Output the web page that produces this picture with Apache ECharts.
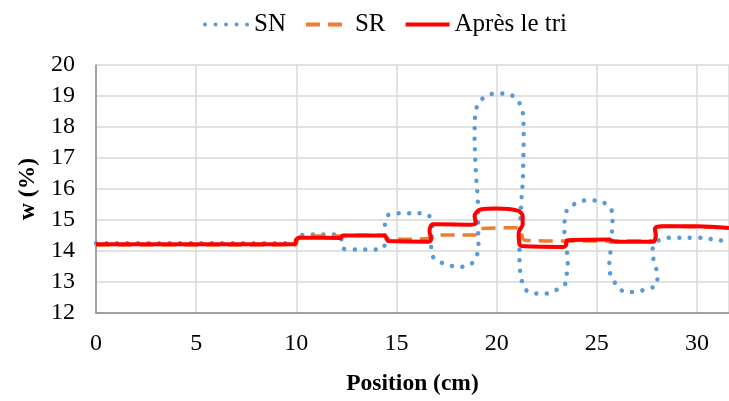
<!DOCTYPE html>
<html><head><meta charset="utf-8">
<script src="https://cdn.jsdelivr.net/npm/echarts@6/dist/echarts.min.js"></script>
<style>html,body{margin:0;padding:0;background:#fff}#c{width:729px;height:401px}</style>
</head><body><div id="c"></div>
<script>
var seriesNames = ['SN', 'SR', 'Après le tri'];
var xTicks = [0, 5, 10, 15, 20, 25, 30];
var yTicks = [12, 13, 14, 15, 16, 17, 18, 19, 20];

var snPoints = [[0,14.25],[5,14.25],[9.9,14.25],[10.05,14.4],[10.4,14.53],[12.1,14.53],[12.28,14.32],[12.35,14.08],[12.7,14.05],[14.0,14.05],[14.4,14.15],[14.42,14.8],[14.55,15.14],[15.05,15.22],[16.3,15.22],[16.65,15.12],[16.8,14.83],[16.73,14.21],[16.8,13.84],[17.23,13.63],[17.73,13.52],[18.26,13.49],[18.76,13.6],[19.03,13.89],[19.09,14.24],[19.08,14.59],[19.06,15.63],[18.98,16.35],[18.93,17.0],[18.9,17.7],[18.94,18.42],[19.09,18.76],[19.48,19.0],[19.97,19.08],[20.52,19.07],[21.0,18.9],[21.25,18.6],[21.34,18.25],[21.35,17.55],[21.33,16.86],[21.3,16.2],[21.22,15.44],[21.14,14.05],[21.17,13.36],[21.47,12.74],[22.0,12.63],[22.5,12.63],[23.05,12.77],[23.46,12.98],[23.5,13.25],[23.55,13.63],[23.38,14.7],[23.41,15.04],[23.55,15.36],[24.0,15.55],[24.46,15.63],[25.02,15.63],[25.54,15.47],[25.79,15.18],[25.7,14.11],[25.62,13.47],[25.84,13.04],[26.45,12.68],[26.95,12.68],[27.45,12.77],[27.98,12.9],[28.03,13.22],[27.9,13.57],[27.78,13.92],[27.87,14.24],[28.37,14.4],[28.9,14.43],[30.0,14.43],[31.07,14.35],[31.6,14.32]];

var srPoints = [[0,14.19],[5,14.19],[9.9,14.2],[10.15,14.45],[10.5,14.48],[12.3,14.48],[12.6,14.51],[14.4,14.5],[14.65,14.38],[16.7,14.4],[16.95,14.52],[18.9,14.52],[19.2,14.72],[21.1,14.75],[21.4,14.35],[23.4,14.32],[27.8,14.32],[28.0,14.75],[28.4,14.8],[31.6,14.74]];

var triPoints = [[0,14.22],[5,14.22],[9.95,14.22],[10.0,14.38],[10.2,14.43],[12.2,14.42],[12.33,14.5],[14.4,14.5],[14.5,14.4],[14.6,14.32],[16.6,14.3],[16.73,14.37],[16.65,14.64],[16.81,14.86],[17.15,14.86],[18.7,14.85],[18.96,14.9],[18.9,15.12],[19.2,15.34],[20.0,15.37],[21.05,15.3],[21.3,15.12],[21.3,14.86],[21.1,14.59],[21.14,14.22],[21.39,14.15],[23.3,14.13],[23.46,14.18],[23.5,14.34],[25.6,14.37],[25.9,14.3],[27.8,14.3],[27.95,14.5],[27.9,14.72],[28.3,14.8],[30.0,14.8],[31.6,14.74]];

var chart = echarts.init(document.getElementById('c'), null, {renderer: 'canvas'});
var font = 'Liberation Serif';
chart.setOption({
  animation: false,
  backgroundColor: '#ffffff',
  legend: {
    top: 7, left: 198,
    itemWidth: 44, itemHeight: 14, itemGap: 18,
    textStyle: {fontFamily: font, fontSize: 25, color: '#000'},
    itemStyle: {opacity: 0},
    lineStyle: {width: 4},
    data: seriesNames
  },
  grid: {left: 96, right: 0, top: 65, bottom: 87, containLabel: false},
  xAxis: {
    type: 'value', min: xTicks[0], max: 31.6, interval: 5,
    name: 'Position (cm)', nameLocation: 'middle', nameGap: 59,
    nameTextStyle: {fontFamily: font, fontSize: 23.5, fontWeight: 'bold', color: '#000'},
    axisLine: {show: true, lineStyle: {color: '#8c8c8c', width: 1.5}},
    axisTick: {show: false},
    axisLabel: {fontFamily: font, fontSize: 24, color: '#000', margin: 19, showMaxLabel: false},
    splitLine: {show: true, lineStyle: {color: '#d9d9d9', width: 1.5}}
  },
  yAxis: {
    type: 'value', min: yTicks[0], max: yTicks[yTicks.length - 1], interval: 1,
    name: 'w (%)', nameLocation: 'middle', nameGap: 56, nameRotate: 90,
    nameTextStyle: {fontFamily: font, fontSize: 23.5, fontWeight: 'bold', color: '#000'},
    axisLine: {show: true, lineStyle: {color: '#8c8c8c', width: 1.5}},
    axisTick: {show: false},
    axisLabel: {fontFamily: font, fontSize: 24, color: '#000', margin: 21},
    splitLine: {show: true, lineStyle: {color: '#d9d9d9', width: 1.5}}
  },
  series: [
    {name: seriesNames[0], type: 'line', data: snPoints, smooth: 0.35, showSymbol: false, symbol: 'none',
     z: 3, lineStyle: {color: '#5B9BD5', width: 4.5, type: [0.01, 10.5], cap: 'round'}, itemStyle: {color: '#5B9BD5'}},
    {name: seriesNames[1], type: 'line', data: srPoints, smooth: 0.35, showSymbol: false, symbol: 'none',
     z: 4, lineStyle: {color: '#ED7D31', width: 3.5, type: [14, 8]}, itemStyle: {color: '#ED7D31'}},
    {name: seriesNames[2], type: 'line', data: triPoints, smooth: 0.35, showSymbol: false, symbol: 'none',
     z: 5, lineStyle: {color: '#FF0000', width: 4}, itemStyle: {color: '#FF0000'}}
  ]
});
</script></body></html>
